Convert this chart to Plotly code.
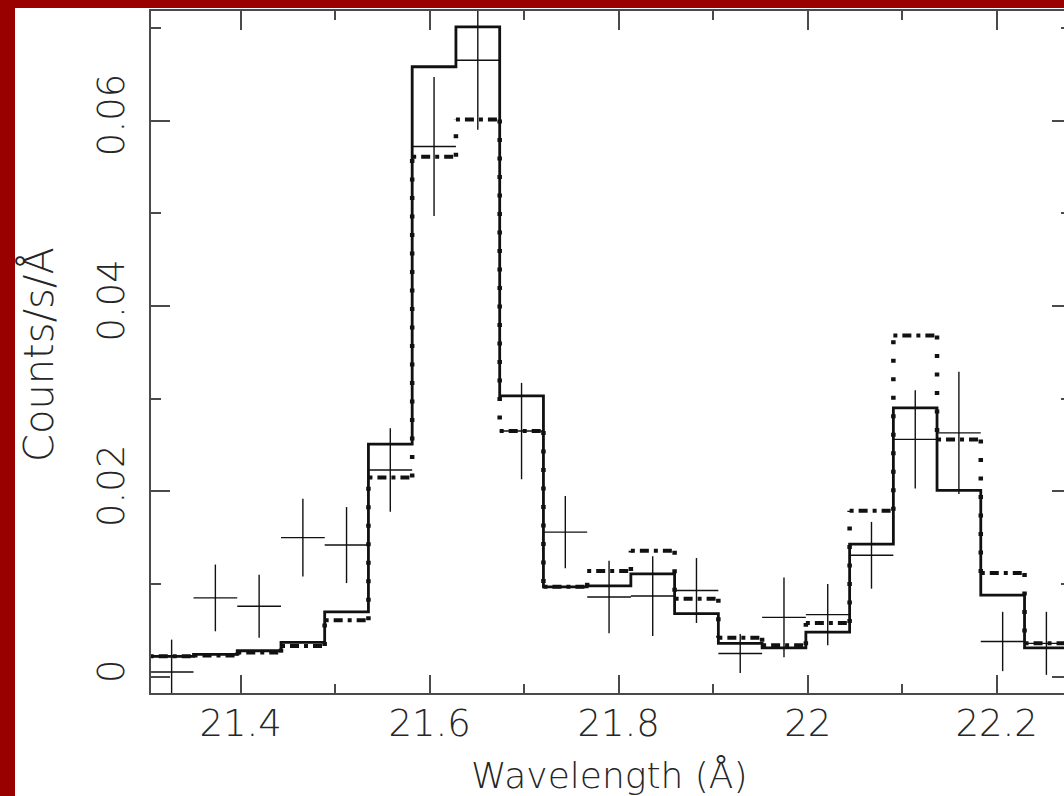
import plotly.graph_objects as go

# ---------------- data ----------------
WAVELENGTH = [21.3269, 21.3732, 21.4195, 21.4658, 21.5120, 21.5583, 21.6046,
              21.6509, 21.6972, 21.7435, 21.7898, 21.8360, 21.8823, 21.9286,
              21.9749, 22.0212, 22.0675, 22.1138, 22.1600, 22.2063, 22.2526]
BIN_HALF_WIDTH = 0.02314

DATA_FLUX = [0.0005, 0.0085, 0.0076, 0.0150, 0.0142, 0.0223, 0.0572,
             0.0665, 0.0265, 0.0156, 0.0086, 0.0087, 0.0093, 0.0025,
             0.0064, 0.0067, 0.0131, 0.0256, 0.0263, 0.0038, 0.0036]
DATA_ERR = [0.0035, 0.0036, 0.0034, 0.0042, 0.0041, 0.0045, 0.0075,
            0.0075, 0.0052, 0.0039, 0.0039, 0.0043, 0.0035, 0.0021,
            0.0043, 0.0033, 0.0036, 0.0053, 0.0066, 0.0032, 0.0034]

MODEL_SOLID = [0.0022, 0.0024, 0.0028, 0.0037, 0.0070, 0.0251, 0.0658,
               0.0701, 0.0303, 0.0097, 0.0098, 0.0111, 0.0068, 0.0036,
               0.0031, 0.0048, 0.0143, 0.0290, 0.0201, 0.0088, 0.0031]
MODEL_DASHED = [0.0022, 0.0023, 0.0026, 0.0033, 0.0061, 0.0215, 0.0561,
                0.0601, 0.0265, 0.0097, 0.0114, 0.0136, 0.0084, 0.0042,
                0.0034, 0.0058, 0.0179, 0.0368, 0.0256, 0.0112, 0.0036]

XTICK_VALUES = [21.4, 21.6, 21.8, 22.0, 22.2]
XTICK_LABELS = ["21.4", "21.6", "21.8", "22", "22.2"]
XMINOR_VALUES = [21.3, 21.5, 21.7, 21.9, 22.1]
YTICK_VALUES = [0, 0.02, 0.04, 0.06]
YTICK_LABELS = ["0", "0.02", "0.04", "0.06"]
YMINOR_VALUES = [0.01, 0.03, 0.05, 0.07]

X_TITLE = "Wavelength (Å)"
Y_TITLE = "Counts/s/Å"

X_RANGE = [21.30508, 22.27122]
Y_RANGE = [-0.001758, 0.071813]

# ---------------- styles ----------------
INK = "#111111"
AXIS_GRAY = "#4a4a4a"
TEXT_GRAY = "#262626"
BORDER_RED = "#990000"
FONT = "DejaVu Sans ExtraLight, DejaVu Sans"

lo = [c - BIN_HALF_WIDTH for c in WAVELENGTH]
hi = [c + BIN_HALF_WIDTH for c in WAVELENGTH]

fig = go.Figure()

# solid model histogram
fig.add_trace(go.Scatter(
    x=lo + [hi[-1]], y=MODEL_SOLID + [MODEL_SOLID[-1]],
    mode="lines", line=dict(color=INK, width=2.8, shape="hv"),
    showlegend=False, hoverinfo="skip"))

# dashed model histogram: horizontal (dashes) and vertical (dots) parts
hx, hy = [], []
for a, b, v in zip(lo, hi, MODEL_DASHED):
    hx += [a, b, None]
    hy += [v, v, None]
vx, vy = [], []
for k in range(1, len(WAVELENGTH)):
    vx += [lo[k], lo[k], None]
    vy += [MODEL_DASHED[k - 1], MODEL_DASHED[k], None]

fig.add_trace(go.Scatter(
    x=hx, y=hy, mode="lines",
    line=dict(color=INK, width=4, dash="4px,5px,9px,5px"),
    showlegend=False, hoverinfo="skip"))
fig.add_trace(go.Scatter(
    x=vx, y=vy, mode="lines",
    line=dict(color=INK, width=4.5, dash="4px,14.5px"),
    showlegend=False, hoverinfo="skip"))

# data points with error crosses
fig.add_trace(go.Scatter(
    x=WAVELENGTH, y=DATA_FLUX, mode="markers",
    marker=dict(size=1, color=INK),
    error_x=dict(type="constant", value=BIN_HALF_WIDTH, width=0,
                 thickness=1.4, color=INK),
    error_y=dict(type="data", array=DATA_ERR, width=0,
                 thickness=1.4, color=INK),
    showlegend=False, hoverinfo="skip"))

# invisible trace so the right-hand tick axis is drawn
fig.add_trace(go.Scatter(x=[None], y=[None], yaxis="y2",
                         showlegend=False, hoverinfo="skip"))

W, H = 1064, 796
ML, MR, MT, MB = 151, 0, 11, 103
PW, PH = W - ML - MR, H - MT - MB


def px_x(p):
    return (p - ML) / PW


def px_y(p):
    return 1 - (p - MT) / PH


tick_font = dict(family=FONT, size=37, color=TEXT_GRAY, weight=200)

fig.update_layout(
    width=W, height=H,
    margin=dict(l=ML, r=MR, t=MT, b=MB, pad=0),
    paper_bgcolor="white", plot_bgcolor="white",
    xaxis=dict(
        range=X_RANGE, showgrid=False, zeroline=False,
        showline=True, linecolor=AXIS_GRAY, linewidth=2, mirror="ticks",
        ticks="inside", ticklen=18.5, tickwidth=2, tickcolor=AXIS_GRAY,
        tickmode="array", tickvals=XTICK_VALUES, ticktext=XTICK_LABELS,
        minor=dict(ticks="inside", ticklen=9, tickwidth=2, tickcolor=AXIS_GRAY,
                   tickmode="array", tickvals=XMINOR_VALUES),
        tickfont=tick_font, ticklabelstandoff=-3,
    ),
    yaxis=dict(
        range=Y_RANGE, showgrid=False, zeroline=False,
        showline=True, linecolor=AXIS_GRAY, linewidth=2, mirror=False,
        ticks="inside", ticklen=18.5, tickwidth=2, tickcolor=AXIS_GRAY,
        tickmode="array", tickvals=YTICK_VALUES, ticktext=YTICK_LABELS,
        minor=dict(ticks="inside", ticklen=9.5, tickwidth=2, tickcolor=AXIS_GRAY,
                   tickmode="array", tickvals=YMINOR_VALUES),
        tickangle=-90, tickfont=tick_font, ticklabelstandoff=10,
    ),
    yaxis2=dict(
        range=Y_RANGE, overlaying="y", side="right", showgrid=False,
        zeroline=False, showline=False, showticklabels=False,
        ticks="inside", ticklen=12.5, tickwidth=2, tickcolor=AXIS_GRAY,
        tickmode="array", tickvals=YTICK_VALUES,
        minor=dict(ticks="inside", ticklen=3.5, tickwidth=2, tickcolor=AXIS_GRAY,
                   tickmode="array", tickvals=YMINOR_VALUES),
    ),
    annotations=[
        dict(text=X_TITLE, xref="paper", yref="paper",
             x=px_x(609), y=px_y(776), xanchor="center", yanchor="middle",
             showarrow=False,
             font=dict(family=FONT, size=36, color=TEXT_GRAY, weight=200)),
        dict(text=Y_TITLE, xref="paper", yref="paper", textangle=-90,
             x=px_x(38), y=px_y(355), xanchor="center", yanchor="middle",
             showarrow=False,
             font=dict(family=FONT, size=40, color=TEXT_GRAY, weight=200)),
    ],
    shapes=[
        dict(type="rect", xref="paper", yref="paper", layer="above",
             x0=px_x(0), x1=px_x(15), y0=px_y(H), y1=px_y(0),
             fillcolor=BORDER_RED, line=dict(width=0)),
        dict(type="rect", xref="paper", yref="paper", layer="above",
             x0=px_x(0), x1=px_x(W), y0=px_y(8), y1=px_y(0),
             fillcolor=BORDER_RED, line=dict(width=0)),
    ],
)

fig.write_html(
    "out.html",
    config={"displayModeBar": False},
    post_script="document.body.style.margin='0';"
                "document.body.style.overflow='hidden';",
)
